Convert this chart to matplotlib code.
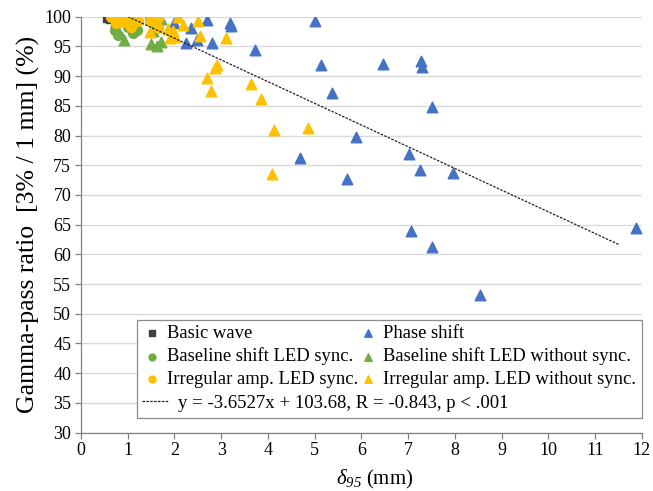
import matplotlib
matplotlib.use("Agg")
import matplotlib.pyplot as plt
from matplotlib.patches import Rectangle

plt.rcParams['font.family'] = ['Liberation Serif', 'DejaVu Serif']
plt.rcParams['mathtext.fontset'] = 'custom'
plt.rcParams['mathtext.rm'] = 'Liberation Serif:italic'
plt.rcParams['mathtext.it'] = 'Liberation Serif:italic'

# ---- data ----
basic_x = [0.55, 0.60, 0.63, 0.72, 1.15]
basic_y = [99.8, 100.0, 99.6, 98.0, 97.8]

phase_x = [0.78, 1.98, 2.36, 2.25, 2.48, 2.70, 2.80, 3.18, 3.20, 3.72, 5.01, 5.14,
           6.46, 7.27, 7.30, 5.36, 7.52, 5.89, 4.68, 7.01, 7.25, 5.70, 7.96, 7.05,
           7.50, 11.87, 8.53]
phase_y = [99.9, 99.0, 98.1, 95.6, 96.1, 99.4, 95.6, 99.0, 98.4, 94.4, 99.2, 91.9,
           92.1, 92.5, 91.5, 87.2, 84.8, 79.7, 76.2, 76.9, 74.2, 72.7, 73.7, 63.9,
           61.2, 64.5, 53.2]

base_sync_x = [0.72, 0.79, 0.75, 1.11, 1.20, 1.47, 1.54, 1.65, 1.60, 1.00]
base_sync_y = [97.8, 96.9, 98.9, 97.2, 97.8, 99.7, 98.9, 98.3, 99.6, 98.3]

base_nosync_x = [0.93, 1.50, 1.63, 1.72, 1.72, 1.55]
base_nosync_y = [96.1, 95.4, 95.0, 95.7, 99.6, 97.6]

irr_sync_x = [0.65, 0.75, 0.82, 0.93, 1.00, 1.04, 1.07, 1.15, 1.22, 1.47, 1.65,
              1.65, 1.10, 0.90]
irr_sync_y = [100.0, 98.9, 99.4, 99.7, 98.9, 99.8, 98.3, 99.4, 99.2, 99.2, 99.8,
              98.1, 99.9, 99.1]

irr_nosync_x = [1.47, 1.87, 1.90, 1.97, 2.02, 2.07, 2.19, 2.50, 2.55, 3.11, 2.90,
                2.86, 2.70, 2.79, 3.64, 3.86, 4.14, 4.86, 4.09]
irr_nosync_y = [97.5, 98.0, 96.4, 97.6, 96.6, 99.9, 98.6, 99.2, 96.8, 96.4, 91.9,
                91.3, 89.6, 87.5, 88.7, 86.1, 80.9, 81.2, 73.6]

slope, intercept = -3.6527, 103.68
trend_x = [1.0, 11.52]
trend_label = "y = -3.6527x + 103.68, R = -0.843, p < .001"

labels = ["Basic wave", "Phase shift", "Baseline shift LED sync.",
          "Baseline shift LED without sync.", "Irregular amp. LED sync.",
          "Irregular amp. LED without sync."]

x_ticks = list(range(0, 13))
y_ticks = list(range(30, 101, 5))

# ---- styles ----
c_basic = '#404040'
c_blue = '#4472C4'
c_green = '#70AD47'
c_yellow = '#FFC000'
axis_col = '#808080'

fig = plt.figure(figsize=(6.53, 4.91), dpi=100)
ax = fig.add_axes([0.124, 0.119, 0.859, 0.847])

ax.set_xlim(0, 12)
ax.set_ylim(30, 100)
ax.set_xticks(x_ticks)
ax.set_yticks(y_ticks)
ax.yaxis.grid(True, color='#D9D9D9', lw=1.0, zorder=0)
ax.set_axisbelow(True)
for s in ['top', 'right']:
    ax.spines[s].set_visible(False)
for s in ['left', 'bottom']:
    ax.spines[s].set_color(axis_col)
    ax.spines[s].set_linewidth(0.9)
ax.tick_params(direction='out', length=4, width=0.9, color=axis_col,
               labelsize=13, pad=3)

tri = 58
h_basic = ax.scatter(basic_x, basic_y, marker='s', s=40, color=c_basic, zorder=3)
h_phase = ax.scatter(phase_x, phase_y, marker='^', s=tri, color=c_blue, zorder=3)
h_bs = ax.scatter(base_sync_x, base_sync_y, marker='o', s=50, color=c_green, zorder=3)
h_bn = ax.scatter(base_nosync_x, base_nosync_y, marker='^', s=tri, color=c_green, zorder=3)
h_is = ax.scatter(irr_sync_x, irr_sync_y, marker='o', s=50, color=c_yellow, zorder=3)
h_in = ax.scatter(irr_nosync_x, irr_nosync_y, marker='^', s=tri, color=c_yellow, zorder=3)

ty = [slope * x + intercept for x in trend_x]
h_tr, = ax.plot(trend_x, ty, ls=(0, (2.0, 1.1)), color='#202020', lw=0.9, zorder=4)

ax.set_xlabel(r'$\delta_{95}$ (mm)', fontsize=15, labelpad=6)
ax.xaxis.label.set_x(0.524)
ax.set_ylabel('Gamma-pass ratio  [3% / 1 mm] (%)', fontsize=18.5, labelpad=3)

# legend frame
fr = Rectangle((136.7 / 653, 1 - 417.7 / 491), (642.3 - 136.7) / 653,
               (417.7 - 320) / 491, transform=fig.transFigure, facecolor='white',
               edgecolor='#8C8C8C', lw=0.9, zorder=5)
fig.patches.append(fr)

fs = 13.4
common = dict(frameon=False, fontsize=fs, handlelength=1.0, handletextpad=0.3,
              labelspacing=0.3, borderpad=0, borderaxespad=0, loc='upper left',
              bbox_transform=fig.transFigure, markerscale=0.7)
leg1 = fig.legend([h_basic, h_bs, h_is], [labels[0], labels[2], labels[4]],
                  bbox_to_anchor=(142.7 / 653, 1 - 325 / 491), **common)
leg2 = fig.legend([h_phase, h_bn, h_in], [labels[1], labels[3], labels[5]],
                  bbox_to_anchor=(359 / 653, 1 - 325 / 491), **common)
leg3 = fig.legend([h_tr], [trend_label], frameon=False, fontsize=13.5,
                  handlelength=1.45, handletextpad=0.5, borderpad=0,
                  borderaxespad=0, loc='center left',
                  bbox_transform=fig.transFigure,
                  bbox_to_anchor=(141.7 / 653, 1 - 403 / 491))
for lg in (leg1, leg2, leg3):
    lg.set_zorder(6)

fig.savefig('out.png', dpi=100)
